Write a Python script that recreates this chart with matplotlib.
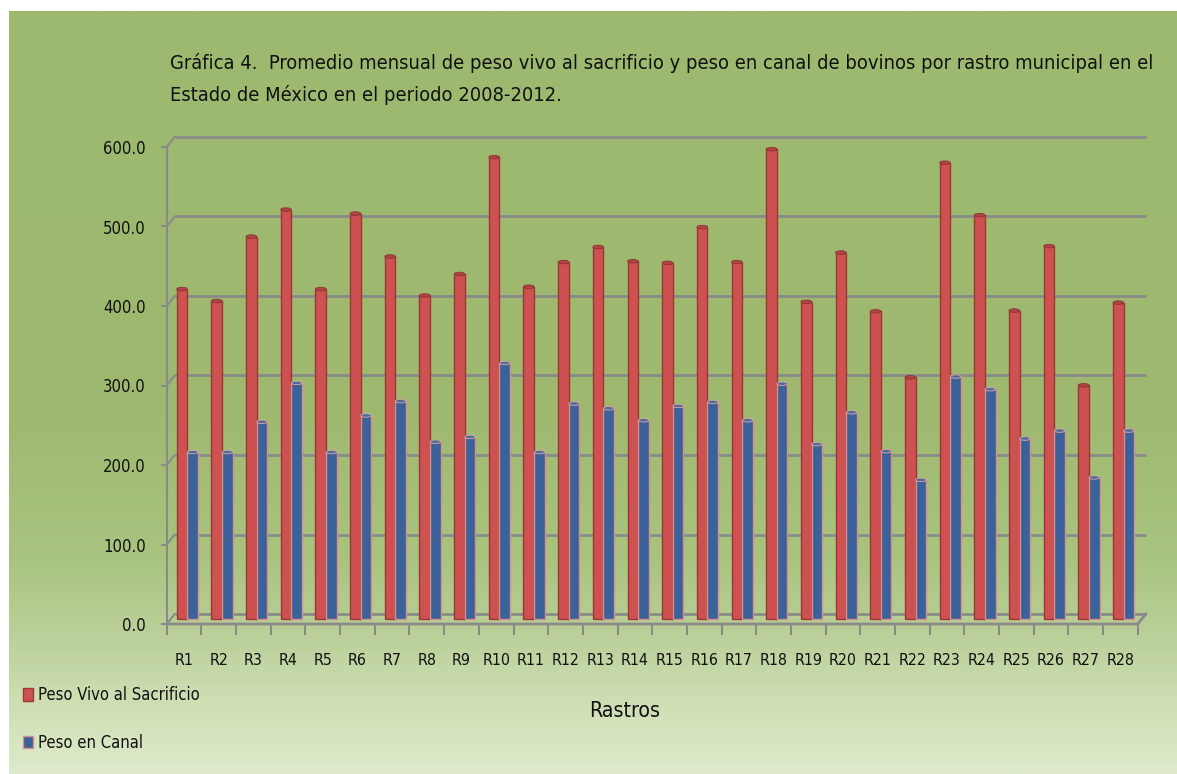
import numpy as np
import matplotlib
matplotlib.use("Agg")
import matplotlib.pyplot as plt
from matplotlib import font_manager
from matplotlib.colors import LinearSegmentedColormap
from matplotlib.patches import Ellipse

# datos (kg)
rastros = ["R1", "R2", "R3", "R4", "R5", "R6", "R7", "R8", "R9", "R10",
           "R11", "R12", "R13", "R14", "R15", "R16", "R17", "R18", "R19", "R20",
           "R21", "R22", "R23", "R24", "R25", "R26", "R27", "R28"]
peso_vivo = [415, 400, 481, 515, 415, 510, 456, 407, 434, 581,
             418, 449, 468, 450, 448, 493, 449, 591, 399, 461,
             387, 304, 574, 508, 388, 469, 294, 398]
peso_canal = [210, 210, 248, 297, 210, 256, 274, 223, 229, 322,
              210, 271, 265, 250, 268, 273, 250, 296, 220, 260,
              211, 175, 305, 289, 227, 237, 178, 237]
y_ticks = [0, 100, 200, 300, 400, 500, 600]
series = ["Peso Vivo al Sacrificio", "Peso en Canal"]

# fuente angosta si existe alguna, si no Liberation Sans
fam, stretch = "Liberation Sans", "normal"
for f in font_manager.fontManager.ttflist:
    cond = ("Narrow" in f.name or "Condensed" in f.name
            or f.stretch in ("condensed", "semi-condensed", "extra-condensed"))
    if cond and f.style == "normal" and f.weight in (400, "normal", "regular") \
            and "Mono" not in f.name and "Serif" not in f.name:
        fam, stretch = f.name, f.stretch
        break
plt.rcParams["font.family"] = [fam, "DejaVu Sans"]
plt.rcParams["font.stretch"] = stretch

W, H = 1177, 774
fig = plt.figure(figsize=(W / 100, H / 100), dpi=100)
fig.patch.set_facecolor("white")

# fondo verde degradado
bg = fig.add_axes([9 / W, 0, 1 - 9 / W, 1 - 11 / H])
bg.axis("off")
stops = [(11, "#9db86f"), (420, "#9fb971"), (560, "#a9c47f"), (650, "#bed29e"),
         (700, "#cddeb2"), (774, "#deeacb")]
cmap = LinearSegmentedColormap.from_list("fondo", [((y - 11) / 763, c) for y, c in stops])
bg.imshow(np.linspace(0, 1, 400).reshape(-1, 1), aspect="auto", cmap=cmap,
          extent=[0, 1, 0, 1], interpolation="bilinear")

# ejes (pseudo 3D)
left, right, top, bottom = 166.7, 1146, 137, 624
cat_px = 34.68
k = 0.795          # px por kg
ax = fig.add_axes([left / W, 1 - bottom / H, (right - left) / W, (bottom - top) / H])
ax.patch.set_alpha(0)
x0 = -0.5
x1 = x0 + (right - left) / cat_px
ylo = -5 / k
yhi = (619 - top) / k
ax.set_xlim(x0, x1)
ax.set_ylim(ylo, yhi)
dx = 8 / cat_px
dy = 5 / k

grid_c = "#8a8a8a"
for v in y_ticks:
    ax.plot([x0 + dx, x1], [v + dy, v + dy], color=grid_c, lw=2, zorder=1,
            solid_capstyle="butt", clip_on=False)
    ax.plot([x0, x0 + dx], [v - dy, v + dy], color=grid_c, lw=1.5, zorder=1, clip_on=False)
ax.plot([x0, x0], [ylo, y_ticks[-1] - dy], color=grid_c, lw=1.5, clip_on=False)
n = len(rastros)
ax.plot([x0, n - 0.5, n - 0.5 + dx], [-dy, -dy, dy], color=grid_c, lw=2, clip_on=False)

for s in ax.spines.values():
    s.set_visible(False)
ax.set_yticks([v - dy for v in y_ticks])
ax.set_yticklabels([f"{v:.1f}" for v in y_ticks])
ax.tick_params(axis="y", length=4, width=1.5, color=grid_c, pad=11, labelsize=12,
               labelcolor="#111111")
xs = np.arange(n)
ax.set_xticks(xs)
ax.set_xticklabels(rastros)
ax.set_xticks(np.arange(n + 1) - 0.5, minor=True)
ax.tick_params(axis="x", which="major", length=0, pad=21, labelsize=11.4,
               labelcolor="#111111")
ax.tick_params(axis="x", which="minor", length=8, width=1.5, color=grid_c)

# barras
w = 10.6 / cat_px
off = 3.25 / cat_px
red = ax.bar(xs + off - w / 2, peso_vivo, w, color="#cc5150", edgecolor="#9b3835",
             lw=1, zorder=3, label=series[0])
blue = ax.bar(xs + off + w / 2, peso_canal, w, color="#3a6299", edgecolor="#d6908e",
              lw=1, zorder=4, label=series[1])
for x, h in zip(xs + off - w / 2, peso_vivo):
    ax.add_patch(Ellipse((x, h), w, 3.5 / k, facecolor="#b04644", edgecolor="#8e3230",
                         lw=0.6, zorder=3.5))
for x, h in zip(xs + off + w / 2, peso_canal):
    ax.add_patch(Ellipse((x, h), w, 3.5 / k, facecolor="#4d6d9b", edgecolor="#e0a5a3",
                         lw=0.6, zorder=4.5))

# textos
fig.text(170 / W, 1 - 69 / H,
         "Gráfica 4.  Promedio mensual de peso vivo al sacrificio y peso en canal de bovinos por rastro municipal en el",
         fontsize=14.4, va="baseline", color="#111111")
fig.text(170 / W, 1 - 101 / H, "Estado de México en el periodo 2008-2012.",
         fontsize=14.4, va="baseline", color="#111111")
fig.text(625 / W, 1 - 711 / H, "Rastros", fontsize=15.3, ha="center", va="center",
         color="#111111")

fig.legend(handles=[red, blue], labels=series, loc="upper left",
           bbox_to_anchor=(23 / W, 1 - 686 / H), frameon=False, fontsize=11.9,
           handlelength=0.6, handleheight=0.8, handletextpad=0.3, labelspacing=1.8,
           borderpad=0, borderaxespad=0, labelcolor="#111111")

fig.savefig("out.png", dpi=100)
